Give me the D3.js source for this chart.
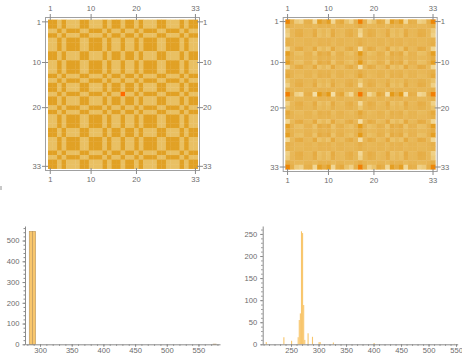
<!DOCTYPE html>
<html><head><meta charset="utf-8">
<script src="https://cdn.jsdelivr.net/npm/d3@7"></script>
<style>body{margin:0;background:#fff}text{font-family:"Liberation Sans",Arial,sans-serif;}</style>
</head><body><svg id="c" width="462" height="353"></svg>
<script>
// ---- data ----
const matrixIndex = d3.range(1, 34);
const matrixTicks = [1, 10, 20, 33];
// left matrix: class of each row/column (D / L); cell is dark when both classes agree, (17,17) red
const leftClass = "DDLDLLLDDLLLDLDDLDDLDLLLDDLLLDLDD";
const leftSpecial = [[17, 17]];
// right matrix: row/column factors (sign: dark +, light -)
const rightFactor = [2.6, 0.3, -0.8, -1.0, 0.2, 0.3, -1.2, 1.1, 0.4, 1.1, -1.2, 0.3, 0.6, -0.5, -1.0, 0.2, 3.2,
                     0.2, -1.0, -0.5, 0.6, 0.3, -1.2, 1.1, 0.4, 1.1, -1.2, 0.3, 0.2, -1.0, -0.8, 0.3, 2.6];
const leftColors = {D: "#E1A125", L: "#E9C063", R: "#FF6A00"};
const rightLevels = [-4, -1.5, 0, 1.5, 4, 10];
const rightLevelColors = ["#F5E0A8", "#EBC46C", "#E7B553", "#E5A93E", "#E4960F", "#F57600"];

const histLeftBins = [[283, 288, 544], [288, 293, 544], [573, 578, 1]];
const histLeftYTicks = [0, 100, 200, 300, 400, 500];
const histLeftXTicks = [300, 350, 400, 450, 500, 550];
const histRightBins = [[204,206,5],[236,238,16],[250,252,8],[262,264,16],[264,266,55],[266,268,70],[268,270,256],[270,272,252],[272,274,89],[274,276,10],[280,282,25],[288,290,17],[300,302,5],[302,304,5],[326,328,4],[400,402,3],[546,548,1]];
const histRightYTicks = [0, 50, 100, 150, 200, 250];
const histRightXTicks = [250, 300, 350, 400, 450, 500, 550];

const svg = d3.select("#c");
const tickCol = "#8a8a8a", labCol = "#6b6b6b", fs = 7.6;

function matrix(cellColor, cx0, cx1, cy0, cy1, fx0, fx1, fy0, fy1) {
  const g = svg.append("g");
  const x = d3.scaleBand().domain(matrixIndex).range([cx0, cx1]);
  const y = d3.scaleBand().domain(matrixIndex).range([cy0, cy1]);
  const cells = [];
  matrixIndex.forEach(i => matrixIndex.forEach(j => cells.push([i, j])));
  g.selectAll("rect.c").data(cells).join("rect").attr("class", "c")
    .attr("x", d => x(d[1])).attr("y", d => y(d[0]))
    .attr("width", x.bandwidth() + 0.35).attr("height", y.bandwidth() + 0.35)
    .attr("fill", d => cellColor(d[0], d[1]));
  g.append("rect").attr("x", fx0 + 0.5).attr("y", fy0 + 0.5).attr("width", fx1 - fx0 - 1).attr("height", fy1 - fy0 - 1).attr("fill", "none").attr("stroke", "#a0a0a0").attr("stroke-width", 1);
  matrixTicks.forEach(t => {
    const px = x(t) + x.bandwidth() / 2, py = y(t) + y.bandwidth() / 2;
    [[fy0, -1], [fy1, 1]].forEach(([yy, s]) => {
      g.append("line").attr("x1", px).attr("x2", px).attr("y1", yy - 3 * s).attr("y2", yy + 3 * s).attr("stroke", tickCol);
    });
    [[fx0, -1], [fx1, 1]].forEach(([xx, s]) => {
      g.append("line").attr("y1", py).attr("y2", py).attr("x1", xx - 3 * s).attr("x2", xx + 3 * s).attr("stroke", tickCol);
    });
    g.append("text").attr("x", px).attr("y", fy0 - 6).attr("text-anchor", "middle").attr("font-size", fs).attr("fill", labCol).text(t);
    g.append("text").attr("x", px).attr("y", fy1 + 11).attr("text-anchor", "middle").attr("font-size", fs).attr("fill", labCol).text(t);
    g.append("text").attr("x", fx0 - 4).attr("y", py + 2.7).attr("text-anchor", "end").attr("font-size", fs).attr("fill", labCol).text(t);
    g.append("text").attr("x", fx1 + 3).attr("y", py + 2.7).attr("text-anchor", "start").attr("font-size", fs).attr("fill", labCol).text(t);
  });
}
const leftColor = (i, j) => leftSpecial.some(s => s[0] === i && s[1] === j) ? leftColors.R
  : (leftClass[i - 1] === leftClass[j - 1] ? leftColors.D : leftColors.L);
const rScale = d3.scaleLinear().domain(rightLevels).range(rightLevelColors).clamp(true);
const rightColor = (i, j) => rScale(rightFactor[i - 1] * rightFactor[j - 1]);
matrix(leftColor, 48, 197.7, 19.6, 168.6, 45, 200, 17, 171);
matrix(rightColor, 285.3, 435.3, 19.3, 169.3, 282.7, 437.7, 17, 172);

function hist(bins, xd, yd, xr, yr, xt, yt, stroke) {
  const g = svg.append("g");
  const x = d3.scaleLinear().domain(xd).range(xr);
  const y = d3.scaleLinear().domain(yd).range(yr);
  g.selectAll("rect").data(bins).join("rect")
    .attr("x", d => x(d[0])).attr("width", d => Math.max(0.6, x(d[1]) - x(d[0])))
    .attr("y", d => y(d[2])).attr("height", d => y(0) - y(d[2]))
    .attr("fill", "#F8C66C").attr("stroke", stroke ? "#B8935A" : "none").attr("stroke-width", 0.6);
  const gx = g.append("g").attr("transform", `translate(0,${yr[0]})`).call(d3.axisBottom(x).tickValues(xt).tickSize(2.5).tickSizeOuter(0));
  const minorX = d3.range(Math.ceil(xd[0] / 10) * 10, xd[1], 10);
  g.append("g").attr("transform", `translate(0,${yr[0]})`).call(d3.axisBottom(x).tickValues(minorX).tickSize(1.5).tickFormat("")).select(".domain").remove();
  g.append("g").attr("transform", `translate(${xr[0]},0)`).call(d3.axisLeft(y).tickValues(yt).tickSize(2.5).tickSizeOuter(0));
  const step = (yt[1] - yt[0]) / 5;
  g.append("g").attr("transform", `translate(${xr[0]},0)`).call(d3.axisLeft(y).tickValues(d3.range(0, yd[1], step)).tickSize(1.5).tickFormat("")).select(".domain").remove();
  g.selectAll(".domain").attr("stroke", tickCol);
  g.selectAll(".tick line").attr("stroke", tickCol);
  g.selectAll(".tick text").attr("fill", labCol).attr("font-size", fs).attr("font-family", '"Liberation Sans",Arial,sans-serif');
  gx.selectAll(".tick text").attr("dy", "0.45em");
}
hist(histLeftBins, [276.3, 584], [0, 570], [25, 220], [344.3, 226], histLeftXTicks, histLeftYTicks, true);
hist(histRightBins, [198.5, 553], [0, 268], [262.7, 457.7], [344.3, 226], histRightXTicks, histRightYTicks, false);
// small grey mark at the left edge
svg.append("rect").attr("x", 0).attr("y", 186).attr("width", 2).attr("height", 4).attr("fill", "#c8c8c8");
</script></body></html>
